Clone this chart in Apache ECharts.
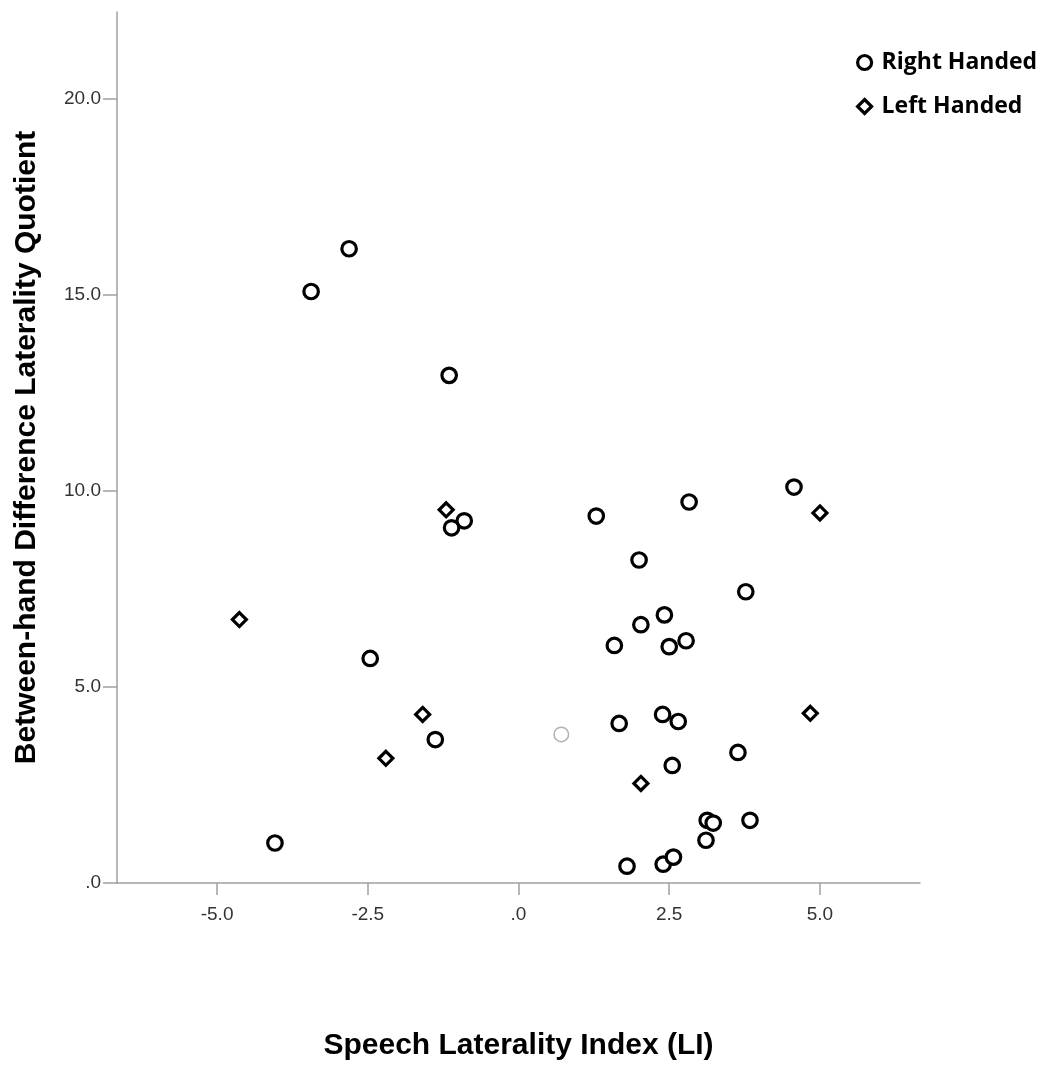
<!DOCTYPE html>
<html><head><meta charset="utf-8">
<script src="https://cdn.jsdelivr.net/npm/echarts@6/dist/echarts.min.js"></script>
<style>html,body{margin:0;padding:0;background:#fff}#c{width:1050px;height:1066px}</style>
</head><body><div id="c"></div>
<script>
const xTicks = [-5, -2.5, 0, 2.5, 5];
const yTicks = [0, 5, 10, 15, 20];
const rightHanded = [
  [-2.81,16.18],[-3.44,15.09],[-1.15,12.95],[-0.90,9.24],[-1.11,9.06],
  [1.29,9.36],[2.83,9.72],[4.57,10.10],[2.00,8.24],[3.77,7.43],
  [2.42,6.84],[2.03,6.59],[1.59,6.06],[2.50,6.03],[2.78,6.18],
  [-2.46,5.73],[1.67,4.07],[2.39,4.30],[2.65,4.12],[-1.38,3.66],
  [3.64,3.33],[2.55,3.00],[3.13,1.60],[3.23,1.53],[3.84,1.60],
  [3.11,1.09],[-4.04,1.02],[1.80,0.43],[2.40,0.48],[2.57,0.66]
];
const otherPoint = [[0.71,3.79]];
const leftHanded = [
  [-4.63,6.72],[-1.20,9.52],[5.00,9.44],[-1.59,4.30],[-2.20,3.18],[2.03,2.54],[4.84,4.33]
];
function fmt(v){
  let s = (Math.round(v*10)/10).toFixed(1);
  s = s.replace(/^0\./,'.').replace(/^-0\./,'-.');
  return s;
}
const chart = echarts.init(document.getElementById('c'));
const axisCol = '#a0a0a0';
chart.setOption({
  animation:false,
  backgroundColor:'#fff',
  grid:{left:117,right:130,top:12,bottom:183},
  legend:{
    orient:'vertical', left:851, top:46, itemGap:21, itemWidth:14, itemHeight:14,
    data:['Right Handed','Left Handed'],
    textStyle:{fontFamily:'Open Sans',fontWeight:'bold',fontSize:23,color:'#000',padding:[0,0,0,5]},
    itemStyle:{borderWidth:3.2,borderColor:'#000',color:'#fff'}
  },
  xAxis:{
    type:'value', min:-6.66, max:6.66,
    name:'Speech Laterality Index (LI)', nameLocation:'middle', nameGap:148,
    nameTextStyle:{fontFamily:'Liberation Sans',fontWeight:'bold',fontSize:30,color:'#000'},
    axisLine:{onZero:false,lineStyle:{color:axisCol,width:1.5}},
    axisTick:{customValues:xTicks,length:12,lineStyle:{color:axisCol,width:1.5}},
    axisLabel:{customValues:xTicks,formatter:fmt,fontFamily:'Liberation Sans',fontSize:19,color:'#333',margin:22},
    splitLine:{show:false}
  },
  yAxis:{
    type:'value', min:0, max:22.22,
    name:'Between-hand Difference Laterality Quotient', nameLocation:'middle', nameGap:75,
    nameTextStyle:{fontFamily:'Liberation Sans',fontWeight:'bold',fontSize:30,color:'#000'},
    axisLine:{onZero:false,lineStyle:{color:axisCol,width:1.5}},
    axisTick:{customValues:yTicks,length:14,lineStyle:{color:axisCol,width:1.5}},
    axisLabel:{customValues:yTicks,formatter:fmt,fontFamily:'Liberation Sans',fontSize:19,color:'#333',margin:16,padding:[3,0,0,0]},
    splitLine:{show:false}
  },
  series:[
    {name:'Right Handed',type:'scatter',symbol:'circle',symbolSize:14.5,data:rightHanded,
     itemStyle:{color:'#fff',borderColor:'#000',borderWidth:3.2,opacity:1}},
    {name:'Left Handed',type:'scatter',symbol:'diamond',symbolSize:14,data:leftHanded,
     itemStyle:{color:'#fff',borderColor:'#000',borderWidth:3.2,opacity:1}},
    {name:'Other',type:'scatter',symbol:'circle',symbolSize:14.5,data:otherPoint,
     itemStyle:{color:'#fff',borderColor:'#b0b0b0',borderWidth:1.5,opacity:1}}
  ]
});
</script></body></html>
